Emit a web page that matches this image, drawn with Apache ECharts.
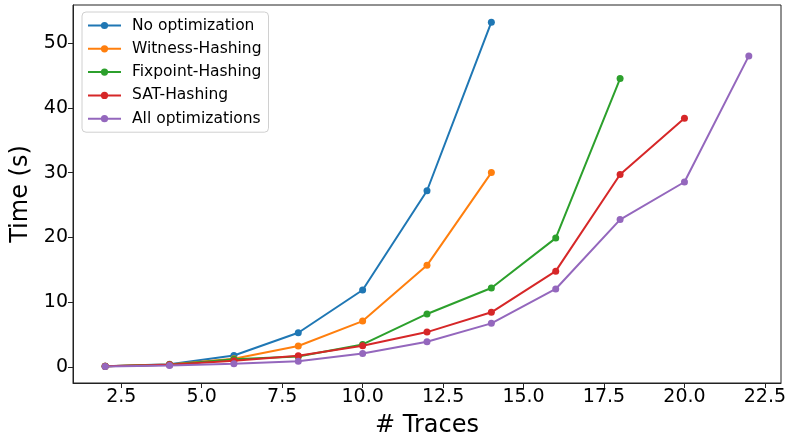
<!DOCTYPE html>
<html>
<head>
<meta charset="utf-8">
<script src="https://cdn.jsdelivr.net/npm/echarts@6/dist/echarts.min.js"></script>
<style>html,body{margin:0;padding:0;background:#fff}#c{width:790px;height:441px}</style>
</head>
<body>
<div id="c"></div>
<script>
const traces = [2, 4, 6, 8, 10, 12, 14, 16, 18, 20, 22];
const noOptimization = [0.15, 0.45, 1.8, 5.3, 11.9, 27.2, 53.2];
const witnessHashing = [0.15, 0.4, 1.3, 3.25, 7.1, 15.7, 30.0];
const fixpointHashing = [0.15, 0.35, 1.2, 1.65, 3.5, 8.2, 12.2, 19.9, 44.5];
const satHashing = [0.15, 0.35, 1.0, 1.75, 3.3, 5.4, 8.45, 14.8, 29.7, 38.4];
const allOptimizations = [0.1, 0.25, 0.5, 0.9, 2.1, 3.9, 6.75, 12.05, 22.75, 28.55, 48.0];
const xTicks = [2.5, 5.0, 7.5, 10.0, 12.5, 15.0, 17.5, 20.0, 22.5];
const yTicks = [0, 10, 20, 30, 40, 50];
const seriesNames = ['No optimization', 'Witness-Hashing', 'Fixpoint-Hashing', 'SAT-Hashing', 'All optimizations'];
const seriesValues = [noOptimization, witnessHashing, fixpointHashing, satHashing, allOptimizations];
const colors = ['#1f77b4', '#ff7f0e', '#2ca02c', '#d62728', '#9467bd'];

const font = 'DejaVu Sans';
const chart = echarts.init(document.getElementById('c'), null, {renderer: 'canvas'});
chart.setOption({
  animation: false,
  backgroundColor: '#fff',
  color: colors,
  grid: {left: 73, right: 9, top: 5, bottom: 58, show: true, borderColor: '#222', borderWidth: 1,
    backgroundColor: 'transparent', containLabel: false, outerBoundsMode: 'none'},
  legend: {
    orient: 'vertical', left: 82, top: 12,
    padding: [5, 7, 5, 5],
    itemWidth: 33, itemHeight: 9, itemGap: 6.3,
    backgroundColor: 'rgba(255,255,255,0.8)',
    borderColor: '#d0d0d0', borderWidth: 1, borderRadius: 4,
    textStyle: {fontFamily: font, fontSize: 15.5, lineHeight: 17, color: '#000', padding: [0, 0, 0, 6]},
    data: seriesNames
  },
  xAxis: {
    type: 'value', min: 1, max: 23,
    name: '# Traces', nameLocation: 'middle', nameGap: 31,
    nameTextStyle: {fontFamily: font, fontSize: 24, color: '#000'},
    axisLine: {show: true, onZero: false, lineStyle: {color: '#222', width: 1}},
    axisTick: {show: true, length: 5, customValues: xTicks, lineStyle: {color: '#222'}},
    axisLabel: {customValues: xTicks, fontFamily: font, fontSize: 19, color: '#000', margin: 5,
      formatter: v => v.toFixed(1)},
    splitLine: {show: false}
  },
  yAxis: {
    type: 'value', min: -2.45, max: 55.85,
    name: 'Time (s)', nameLocation: 'middle', nameGap: 28, nameRotate: 90,
    nameTextStyle: {fontFamily: font, fontSize: 24, color: '#000'},
    axisLine: {show: true, onZero: false, lineStyle: {color: '#222', width: 1}},
    axisTick: {show: true, length: 5, customValues: yTicks, lineStyle: {color: '#222'}},
    axisLabel: {customValues: yTicks, fontFamily: font, fontSize: 19, color: '#000', margin: 5,
      formatter: v => String(v)},
    splitLine: {show: false}
  },
  series: seriesNames.map((name, i) => ({
    name: name,
    type: 'line',
    data: seriesValues[i].map((v, j) => [traces[j], v]),
    symbol: 'circle', symbolSize: 7,
    lineStyle: {width: 2, color: colors[i]},
    itemStyle: {color: colors[i]},
    z: 2 + i
  }))
});
</script>
</body>
</html>
